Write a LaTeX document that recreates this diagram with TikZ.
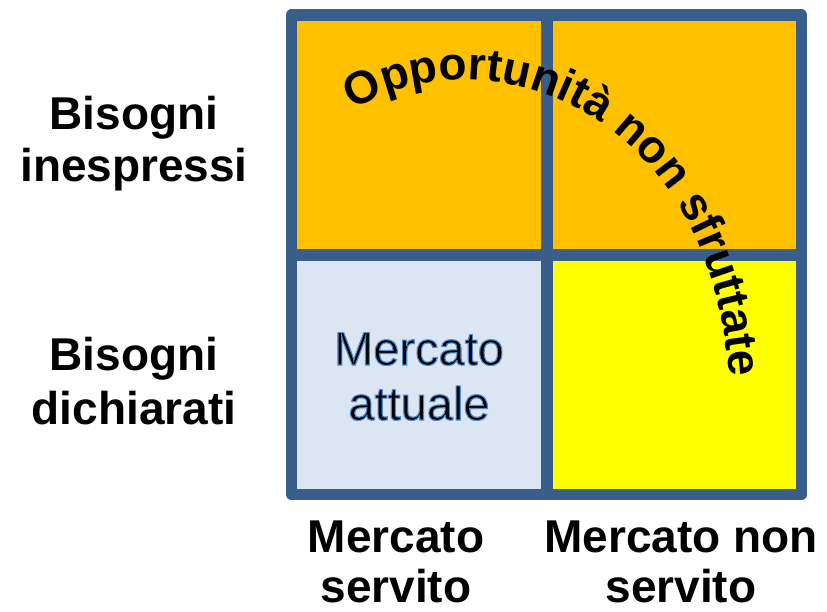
\documentclass[tikz,border=0pt]{standalone}
\usepackage{fontspec}
\setmainfont{Liberation Sans}
\usetikzlibrary{decorations.text}
\definecolor{gridblue}{RGB}{58,94,140}
\definecolor{cellorange}{RGB}{255,192,0}
\definecolor{cellblue}{RGB}{220,230,242}
\definecolor{cellyellow}{RGB}{255,255,0}
\newcommand{\glowon}{\special{pdf:literal 2 Tr 1.1 w 0.30 0.55 0.82 RG}}
\newcommand{\glowoff}{\special{pdf:literal 0 Tr}}
\begin{document}
\begin{tikzpicture}[x=1pt,y=-1pt,
  lbl/.style={font=\fontsize{46}{51}\selectfont\bfseries, anchor=base, inner sep=0pt},
  inlbl/.style={font=\fontsize{47}{55}\selectfont, anchor=base, inner sep=0pt},
  gridline/.style={draw=gridblue, line width=11.5pt}]
\useasboundingbox (0,0) rectangle (827,611);
% cells
\fill[cellorange] (291.5,15) rectangle (801.5,255);
\fill[cellblue] (291.5,255) rectangle (547,494.5);
\fill[cellyellow] (547,255) rectangle (801.5,494.5);
% grid
\draw[gridline] (547,15) -- (547,494.5);
\draw[gridline] (291.5,255) -- (801.5,255);
\draw[gridline, line join=round] (291.5,15) rectangle (801.5,494.5);
% Mercato attuale with blue outline
\node[inlbl] (ma1) at (419,365) {\glowon Mercato\glowoff};
\node[inlbl] (ma2) at (419,420) {\glowon attuale\glowoff};
% row labels
\node[lbl] (bi1) at (134,129) {Bisogni};
\node[lbl] (bi2) at (134,181) {inespressi};
\node[lbl] (bd1) at (134,370) {Bisogni};
\node[lbl] (bd2) at (134,424) {dichiarati};
% column labels
\node[lbl] (ms1) at (396,552) {Mercato};
\node[lbl] (ms2) at (396,602) {servito};
\node[lbl] (mn1) at (681,552) {Mercato non};
\node[lbl] (mn2) at (681,602) {servito};
% curved text
\path[decorate, decoration={text along path, text align=left,
  text={|\fontsize{46}{46}\selectfont\bfseries|Opportunità non sfruttate}}]
  (353,110) .. controls (497,24) and (740,120) .. (730,430);
\end{tikzpicture}
\end{document}
